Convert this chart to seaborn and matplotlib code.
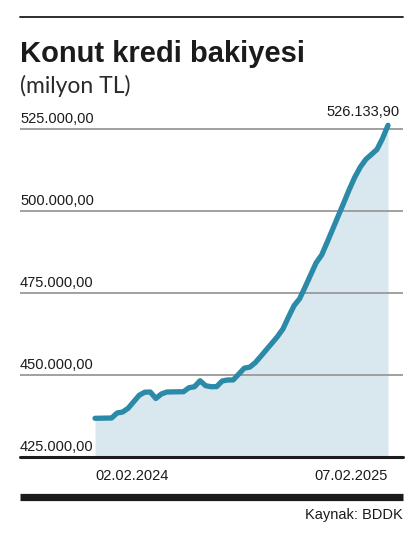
import numpy as np
import pandas as pd
import seaborn as sns
import matplotlib.pyplot as plt
from matplotlib.lines import Line2D
from matplotlib import transforms

# weekly housing loan balance (milyon TL)
start_date = '2024-02-02'
end_date = '2025-02-07'
balance = [436800, 436830, 436860, 436890, 438420, 438720, 439880, 441860,
           443840, 444760, 444820, 442840, 444210, 444820, 444850, 444880,
           444900, 446130, 446430, 448260, 446740, 446430, 446460, 448170,
           448480, 448500, 450280, 452080, 452410, 453780, 455730, 457720,
           459700, 461710, 464060, 467690, 471130, 473240, 476800, 480520,
           484210, 486590, 490490, 494490, 498510, 502510, 506590, 510340,
           513420, 515770, 517260, 518760, 522080, 526133.90]
grid_values = [450000, 475000, 500000, 525000]
y_labels = ['425.000,00', '450.000,00', '475.000,00', '500.000,00', '525.000,00']
first_label = '02.02.2024'
last_label = '07.02.2025'
last_value_label = '526.133,90'

dates = pd.date_range(start_date, end_date, freq='W-FRI')
df = pd.DataFrame({'date': dates, 'balance': balance})

sns.set_style('white')
plt.rcParams['font.family'] = ['Liberation Sans', 'DejaVu Sans']

W, H = 418, 549
fig = plt.figure(figsize=(W / 100, H / 100), dpi=100)
ax = fig.add_axes([20 / W, (H - 457) / H, 383 / W, 342 / H])

line_col = '#2a8aa8'
fill_col = '#d9e7ef'
ink = '#1c1a1b'

ax.fill_between(df['date'], df['balance'], 425000, color=fill_col, lw=0, zorder=1)
for g in grid_values:
    ax.axhline(g, color='#999999', lw=1.3, zorder=2)
sns.lineplot(data=df, x='date', y='balance', ax=ax, color=line_col, lw=3.8,
             solid_capstyle='round', solid_joinstyle='round', zorder=3)
ax.axhline(425000, color=ink, lw=2.2, zorder=4, clip_on=False)

ax.set_ylim(425000, 529276)
ax.set_xlim(dates[0] - pd.Timedelta(days=95), dates[-1] + pd.Timedelta(days=19))
ax.set_xticks([])
ax.set_yticks([])
ax.set_xlabel('')
ax.set_ylabel('')
for s in ax.spines.values():
    s.set_visible(False)
ax.patch.set_alpha(0)

# y labels sit above their gridlines
lab_tr = transforms.offset_copy(transforms.blended_transform_factory(ax.transAxes, ax.transData),
                                fig=fig, y=4, units='points')
for v, t in zip([425000] + grid_values, y_labels):
    ax.text(0, v, t, transform=lab_tr, ha='left', va='baseline', fontsize=10.5, color=ink)

end_tr = transforms.offset_copy(ax.transData, fig=fig, x=8, y=7, units='points')
ax.text(dates[-1], balance[-1], last_value_label, transform=end_tr, ha='right',
        va='baseline', fontsize=10.5, color=ink)

date_tr = transforms.blended_transform_factory(ax.transData, ax.transAxes)
ax.text(dates[0], -0.056, first_label, transform=date_tr, ha='left', va='center',
        fontsize=10.5, color=ink)
ax.text(dates[-1], -0.056, last_label, transform=date_tr, ha='right', va='center',
        fontsize=10.5, color=ink)

# title block
fig.text(20 / W, (H - 62) / H, 'Konut kredi bakiyesi', ha='left', va='baseline',
         fontsize=21, fontweight='bold', color=ink)
fig.text(20 / W, (H - 93) / H, '(milyon TL)', ha='left', va='baseline',
         fontsize=16.5, color='#2a2a2a', family=['Lato', 'DejaVu Sans'])
fig.text(403 / W, (H - 515) / H, 'Kaynak: BDDK', ha='right', va='center',
         fontsize=10.5, color=ink)

fig.add_artist(Line2D([20 / W, 403 / W], [(H - 17) / H] * 2, color=ink, lw=1.3))
fig.add_artist(Line2D([20 / W, 403 / W], [(H - 496.5) / H] * 2, color=ink, lw=5.2,
                      solid_capstyle='butt'))

fig.savefig('out.png', dpi=100)
